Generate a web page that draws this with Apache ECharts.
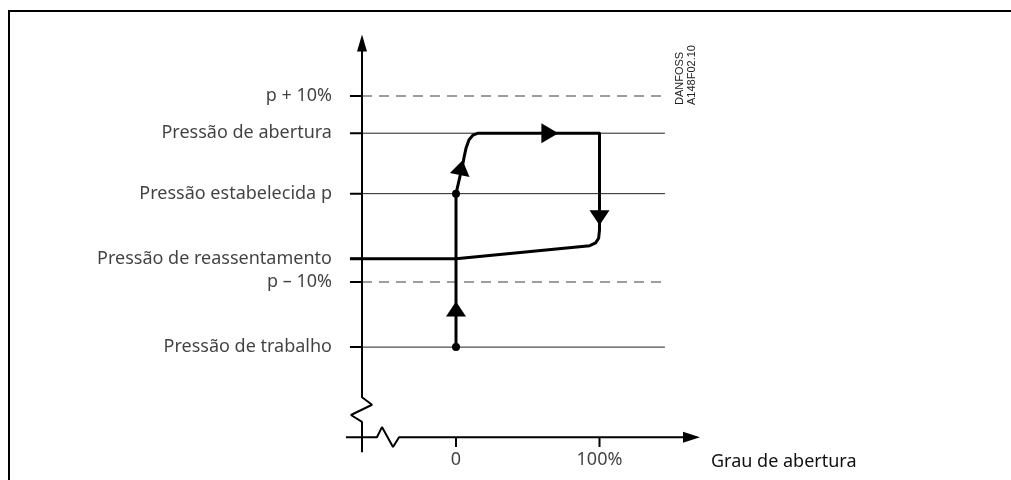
<!DOCTYPE html>
<html><head><meta charset="utf-8">
<script src="https://cdn.jsdelivr.net/npm/echarts@6/dist/echarts.min.js"></script>
<style>html,body{margin:0;padding:0;background:#fff}#c{width:1011px;height:480px}</style>
</head><body><div id="c"></div>
<script>
// ---- data ----
const levelLabels = ['p + 10%', 'Pressão de abertura', 'Pressão estabelecida p', 'Pressão de reassentamento', 'p – 10%', 'Pressão de trabalho'];
const levelValues = [110, 106, 99.5, 92.5, 90, 83];
const xTickValues = [0, 100];
const xTickLabels = ['0', '100%'];
const xAxisTitle = 'Grau de abertura';
const codeLines = ['DANFOSS', 'A148F02.10'];
// valve opening path (opening degree %, pressure)
const pathX = [0, 0, 4.9, 5.6, 7.0, 9.1, 11.9, 15.4, 100, 100, 99.4, 97.3, 93.2, 0, -73.9];
const pathY = [83, 99.5, 102.8, 103.4, 104.4, 105.3, 105.8, 106, 106, 95.6, 94.7, 94.2, 93.9, 92.5, 92.5];
const dotX = [0, 0];
const dotY = [83, 99.5];
const arrowX = [0, 3.6, 65.4, 100];
const arrowY = [87.1, 102.3, 106, 96.9];
const arrowTurn = [0, -11, -90, 180];

// ---- layout constants (data units) ----
const AX = -65.5;          // y-axis position on x scale
const AY = 73.3;           // x-axis position on y scale
const LINE_START = -73.9, LINE_END = 145.6;

const black = '#000', thin = '#222', dash = '#3d3d3d';
const FONT = 'Noto Sans', FS = 18, TXT = '#111';
const series = [];

// level lines
levelValues.forEach((v, i) => {
  const dashed = levelLabels[i].indexOf('%') >= 0;
  if (i !== 3) {
    series.push({type: 'line', data: [[AX, v], [LINE_END, v]], symbol: 'none', silent: true,
      lineStyle: {color: dashed ? dash : thin, width: dashed ? 1.2 : 1, type: dashed ? [10, 7] : 'solid'}, z: 1});
  }
  series.push({type: 'line', data: [[LINE_START, v], [AX, v]], symbol: 'none', silent: true,
    lineStyle: {color: black, width: 2}, z: 2});
});

// level labels
series.push({type: 'scatter', symbolSize: 0, silent: true,
  data: levelValues.map((v, i) => ({value: [LINE_START, v], name: levelLabels[i]})),
  label: {show: true, position: 'left', distance: 18, formatter: p => p.name,
    color: TXT, fontFamily: FONT, fontSize: FS}});

// y axis with break
series.push({type: 'line', symbol: 'none', silent: true, z: 3,
  data: [[AX, 71.7], [AX, 74.95], [-73.2, 75.7], [-58.5, 76.8], [AX, 77.6], [AX, 115]],
  lineStyle: {color: black, width: 2}});
// x axis with break
series.push({type: 'line', symbol: 'none', silent: true, z: 3,
  data: [[-76.7, AY], [-55.1, AY], [-51.6, 74.4], [-43.9, 72.25], [-39.7, AY], [160, AY]],
  lineStyle: {color: black, width: 2}});
// axis arrowheads
series.push({type: 'scatter', symbol: 'triangle', silent: true, z: 4,
  itemStyle: {color: black, opacity: 1},
  data: [{value: [AX, 115.7], symbolSize: [10, 17]}, {value: [164.1, AY], symbolSize: [11, 17], symbolRotate: -90}]});

// x ticks + labels
xTickValues.forEach(v => {
  series.push({type: 'line', data: [[v, AY], [v, 72.25]], symbol: 'none', silent: true,
    lineStyle: {color: black, width: 2}});
});
series.push({type: 'scatter', symbolSize: 0, silent: true,
  data: xTickValues.map((v, i) => ({value: [v, AY], name: xTickLabels[i]})),
  label: {show: true, position: 'bottom', distance: 14, formatter: p => p.name,
    color: TXT, fontFamily: FONT, fontSize: FS}});

// main path
series.push({type: 'line', symbol: 'none', silent: true, z: 5,
  data: pathX.map((x, i) => [x, pathY[i]]),
  lineStyle: {color: black, width: 3, join: 'round'}});
// dots
series.push({type: 'scatter', symbol: 'circle', symbolSize: 8, silent: true, z: 6,
  itemStyle: {color: black, opacity: 1}, data: dotX.map((x, i) => [x, dotY[i]])});
// flow arrows
series.push({type: 'scatter', symbol: 'triangle', silent: true, z: 6,
  itemStyle: {color: black, opacity: 1},
  data: arrowX.map((x, i) => ({value: [x, arrowY[i]], symbolRotate: arrowTurn[i],
    symbolSize: arrowTurn[i] === -90 ? [20, 17] : [20, 15]}))});

const chart = echarts.init(document.getElementById('c'), null, {renderer: 'canvas'});
chart.setOption({
  animation: false,
  backgroundColor: '#fff',
  grid: {left: 341.2, right: 296.7, top: 21.6, bottom: 12},
  xAxis: {type: 'value', min: -80, max: 180, show: false},
  yAxis: {type: 'value', min: 70, max: 118, show: false},
  graphic: [
    {type: 'rect', shape: {x: 9, y: 11, width: 1200, height: 700}, style: {fill: 'none', stroke: '#000', lineWidth: 2}},
    {type: 'text', x: 711, y: 462, style: {text: xAxisTitle, fill: TXT, font: FS + 'px "' + FONT + '"', textVerticalAlign: 'middle'}},
    {type: 'text', x: 680, y: 105, rotation: Math.PI / 2, style: {text: codeLines[0], fill: '#222', font: '11px "Liberation Sans"', textVerticalAlign: 'middle'}},
    {type: 'text', x: 692, y: 105, rotation: Math.PI / 2, style: {text: codeLines[1], fill: '#222', font: '11px "Liberation Sans"', textVerticalAlign: 'middle'}}
  ],
  series: series
});
</script></body></html>
